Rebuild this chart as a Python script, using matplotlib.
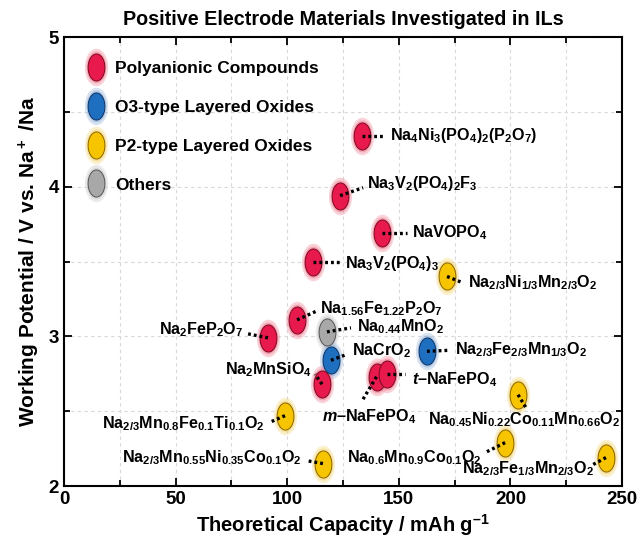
import numpy as np
import matplotlib
matplotlib.use("Agg")
import matplotlib.pyplot as plt
from matplotlib.path import Path
from matplotlib.lines import Line2D

plt.rcParams['font.family'] = ['Liberation Sans', 'DejaVu Sans']
plt.rcParams['font.weight'] = 'bold'
plt.rcParams['mathtext.fontset'] = 'custom'
plt.rcParams['mathtext.rm'] = 'Liberation Sans:bold'
plt.rcParams['mathtext.bf'] = 'Liberation Sans:bold'
plt.rcParams['mathtext.it'] = 'Liberation Sans:bold:italic'
try:
    plt.rcParams['mathtext.bfit'] = 'Liberation Sans:bold:italic'
except KeyError:
    pass

# ---------------- data ----------------
names = [
    r"Na$_4$Ni$_3$(PO$_4$)$_2$(P$_2$O$_7$)",
    r"Na$_3$V$_2$(PO$_4$)$_2$F$_3$",
    r"NaVOPO$_4$",
    r"Na$_3$V$_2$(PO$_4$)$_3$",
    r"Na$_{2/3}$Ni$_{1/3}$Mn$_{2/3}$O$_2$",
    r"Na$_{1.56}$Fe$_{1.22}$P$_2$O$_7$",
    r"Na$_2$FeP$_2$O$_7$",
    r"Na$_{0.44}$MnO$_2$",
    r"NaCrO$_2$",
    r"Na$_2$MnSiO$_4$",
    r"$m$–NaFePO$_4$",
    r"$t$–NaFePO$_4$",
    r"Na$_{2/3}$Fe$_{2/3}$Mn$_{1/3}$O$_2$",
    r"Na$_{0.45}$Ni$_{0.22}$Co$_{0.11}$Mn$_{0.66}$O$_2$",
    r"Na$_{0.6}$Mn$_{0.9}$Co$_{0.1}$O$_2$",
    r"Na$_{2/3}$Fe$_{1/3}$Mn$_{2/3}$O$_2$",
    r"Na$_{2/3}$Mn$_{0.8}$Fe$_{0.1}$Ti$_{0.1}$O$_2$",
    r"Na$_{2/3}$Mn$_{0.55}$Ni$_{0.35}$Co$_{0.1}$O$_2$",
]
capacity = [133.5, 123.7, 142.5, 111.6, 171.6, 104.4, 91.4, 117.8, 119.6,
            115.6, 140.0, 144.5, 162.6, 203.4, 197.6, 242.8, 99.0, 116.0]
potential = [4.34, 3.94, 3.69, 3.50, 3.40, 3.11, 2.99, 3.03, 2.84,
             2.68, 2.73, 2.75, 2.90, 2.61, 2.29, 2.19, 2.47, 2.15]
category = ["poly", "poly", "poly", "poly", "p2", "poly", "poly", "other", "o3",
            "poly", "poly", "poly", "o3", "p2", "p2", "p2", "p2", "p2"]

cat_labels = {"poly": "Polyanionic Compounds",
              "o3": "O3-type Layered Oxides",
              "p2": "P2-type Layered Oxides",
              "other": "Others"}
cat_order = ["poly", "o3", "p2", "other"]

# ---------------- styles ----------------
colors = {"poly": "#E8194C", "o3": "#1F6FC0", "p2": "#F7C400", "other": "#A8A8A8"}
glow = {"poly": "#F07C92", "o3": "#8FAFD8", "p2": "#F3D470", "other": "#C8C8C8"}
edges = {"poly": "#7A0820", "o3": "#0C3260", "p2": "#8A6400", "other": "#555555"}

# label placement (pixel offsets): leader end (dx, dy), text anchor (tx, ty), ha
label_style = [
    ((22, 0), (28, 0), "left"),
    ((23, 8), (27, 12), "left"),
    ((25, 0), (30, 0), "left"),
    ((27, 0), (32, -2), "left"),
    ((15, -6), (21, -6), "left"),
    ((20, 9), (23, 11), "left"),
    ((-20, 4), (-25, 8), "right"),
    ((24, 4), (30, 5), "left"),
    ((16, 6), (21, 10), "left"),
    ((-7, 10), (-10, 15), "right"),
    ((-15, -25), (-7, -40), "center"),
    ((18, 0), (25, -6), "left"),
    ((22, 1), (28, 2), "left"),
    ((8, -13), (6, -25), "center"),
    ((-20, -10), (-23, -15), "right"),
    ((-13, -7), (-12, -11), "right"),
    ((-16, -7), (-20, -8), "right"),
    ((-17, 3), (-21, 6), "right"),
]

# ellipse marker path
t = np.linspace(0, 2 * np.pi, 60)
ell = Path(np.column_stack([0.31 * np.cos(t), 0.5 * np.sin(t)]), closed=True)

fig = plt.figure(figsize=(6.38, 5.42), dpi=100)
ax = fig.add_axes([0.1003, 0.1033, 0.8747, 0.8284])
ax.set_xlim(0, 250)
ax.set_ylim(2, 5)

cap = np.array(capacity)
pot = np.array(potential)

for i in range(len(names)):
    c = category[i]
    ax.plot(cap[i], pot[i], marker=ell, ms=27, color=glow[c], alpha=0.35, mew=0, ls='none', zorder=3)
    ax.plot(cap[i], pot[i], marker=ell, ms=23, color=glow[c], alpha=0.5, mew=0, ls='none', zorder=3)
    ax.plot(cap[i], pot[i], marker=ell, ms=19.5, mfc=colors[c], mec=edges[c], mew=0.7, ls='none', zorder=4)
    (lx, ly), (tx, ty), ha = label_style[i]
    p0 = ax.transData.transform((cap[i], pot[i]))
    ex, ey = ax.transData.inverted().transform(p0 + np.array([lx, ly]))
    ax.plot([cap[i], ex], [pot[i], ey], color='black', lw=2.4, ls=(0, (0.85, 0.9)),
            dash_capstyle='butt', zorder=5)
    ax.annotate(names[i], xy=(cap[i], pot[i]), xytext=(tx, ty), textcoords='offset pixels',
                ha=ha, va='center', fontsize=11.6, fontweight='bold', zorder=6)

# legend
handles = []
for c in cat_order:
    h1 = Line2D([], [], marker=ell, ms=27, color=glow[c], alpha=0.35, mew=0, ls='none')
    h2 = Line2D([], [], marker=ell, ms=23, color=glow[c], alpha=0.5, mew=0, ls='none')
    h3 = Line2D([], [], marker=ell, ms=19.5, mfc=colors[c], mec=edges[c], mew=0.7, ls='none')
    handles.append((h1, h2, h3))
ax.legend(handles, [cat_labels[c] for c in cat_order], loc='upper left',
          bbox_to_anchor=(0.0, 0.985), frameon=False, prop=dict(size=12.5, weight='bold'),
          labelspacing=1.36, handletextpad=0.25, handlelength=1.7, borderaxespad=0.6)

ax.set_xticks([0, 50, 100, 150, 200, 250])
ax.set_xticks([25, 75, 125, 175, 225], minor=True)
ax.set_yticks([2, 3, 4, 5])
ax.set_yticks([2.5, 3.5, 4.5], minor=True)
ax.grid(True, which='both', ls=(0, (3, 3)), color='#D8D8D8', lw=0.8, zorder=0)
ax.set_axisbelow(True)
ax.tick_params(which='both', direction='in', top=True, right=True, width=1.3)
ax.tick_params(which='major', length=6, labelsize=13.5)
ax.tick_params(which='minor', length=4)
for lbl in ax.get_xticklabels() + ax.get_yticklabels():
    lbl.set_fontweight('bold')
for s in ax.spines.values():
    s.set_linewidth(1.5)

ax.set_xlabel(r"Theoretical Capacity / mAh g$^{\mathbf{–1}}$", fontsize=14.5, fontweight='bold', labelpad=3)
ax.set_ylabel(r"Working Potential / V vs. Na$^+$ /Na", fontsize=15, fontweight='bold', labelpad=5)
ax.set_title("Positive Electrode Materials Investigated in ILs", fontsize=14.2, fontweight='bold', pad=9)

fig.savefig("out.png", dpi=100)
